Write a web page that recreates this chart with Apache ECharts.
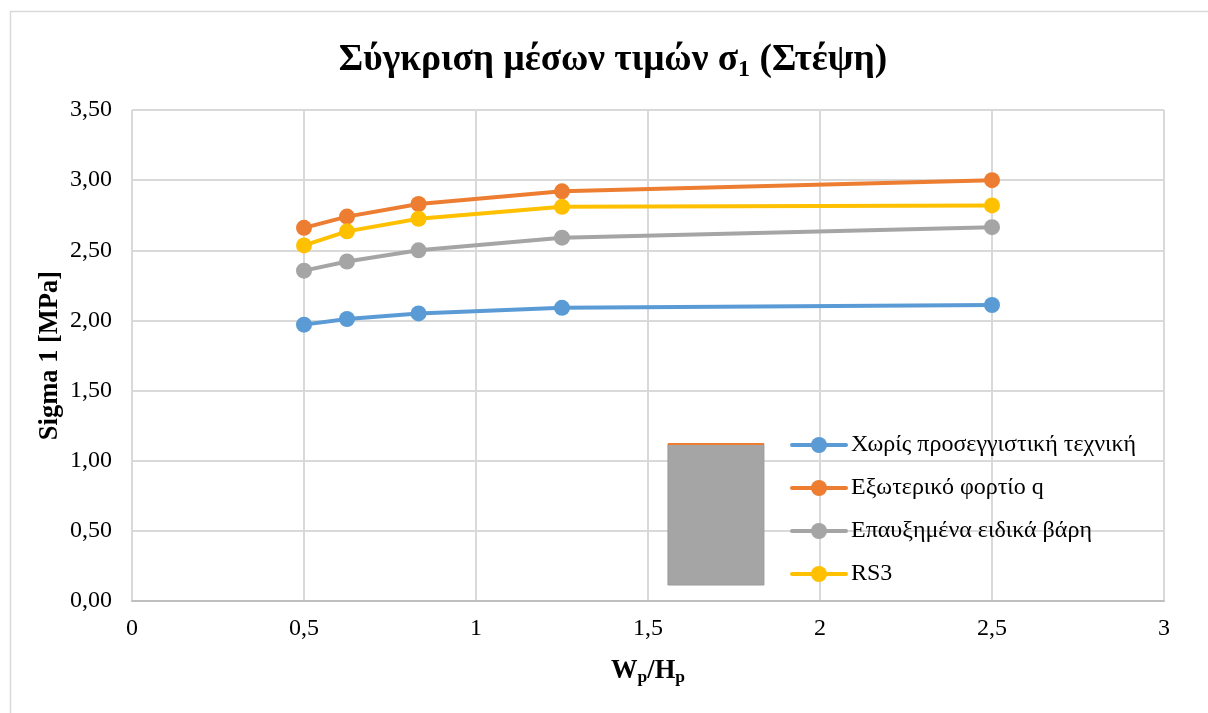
<!DOCTYPE html>
<html><head><meta charset="utf-8">
<script src="https://cdn.jsdelivr.net/npm/echarts@6/dist/echarts.min.js"></script>
<style>html,body{margin:0;padding:0;background:#fff}#c{width:1208px;height:713px}</style>
</head><body><div id="c"></div>
<script>
const xValues = [0.5, 0.625, 0.833, 1.25, 2.5];
const noTechnique = [1.97, 2.01, 2.05, 2.09, 2.11];
const externalLoad = [2.66, 2.74, 2.83, 2.92, 3.00];
const increasedWeights = [2.355, 2.42, 2.50, 2.59, 2.665];
const rs3 = [2.535, 2.635, 2.725, 2.81, 2.82];
const seriesNames = ['Χωρίς προσεγγιστική τεχνική', 'Εξωτερικό φορτίο q', 'Επαυξημένα ειδικά βάρη', 'RS3'];
const seriesColors = ['#5B9BD5', '#ED7D31', '#A5A5A5', '#FFC000'];
const seriesValues = [noTechnique, externalLoad, increasedWeights, rs3];
const boxX = [1.558, 1.837];
const boxY = [0.114, 1.119];
const FONT = '"Liberation Serif","Times New Roman",serif';

const chart = echarts.init(document.getElementById('c'), null, {renderer: 'canvas'});
const series = seriesValues.map((vals, i) => ({
  name: seriesNames[i],
  type: 'line',
  data: vals.map((v, k) => [xValues[k], v]),
  symbol: 'circle',
  symbolSize: 16,
  showSymbol: true,
  z: 3 + i,
  lineStyle: {color: seriesColors[i], width: 4, cap: 'round'},
  itemStyle: {color: seriesColors[i], borderWidth: 0},
  emphasis: {disabled: true},
  animation: false
}));
series[0].markArea = {
  silent: true,
  z: 1,
  itemStyle: {color: '#A5A5A5', borderColor: '#9A9A9A', borderWidth: 1},
  data: [[{coord: [boxX[0], boxY[0]]}, {coord: [boxX[1], boxY[1]]}]]
};
series[1].markLine = {
  silent: true,
  symbol: 'none',
  z: 2,
  label: {show: false},
  lineStyle: {color: '#ED7D31', width: 2, type: 'solid'},
  data: [[{coord: [boxX[0], boxY[1]]}, {coord: [boxX[1], boxY[1]]}]]
};
chart.setOption({
  animation: false,
  backgroundColor: '#fff',
  graphic: [{
    type: 'rect', silent: true, z: -1,
    shape: {x: 10.5, y: 11.5, width: 1300, height: 900},
    style: {fill: '#fff', stroke: '#D9D9D9', lineWidth: 1.5}
  }],
  title: {
    text: '{t|Σύγκριση μέσων τιμών σ}{s|1}{t| (Στέψη)}',
    left: 608, top: 33, textAlign: 'center',
    textStyle: {
      rich: {
        t: {fontFamily: FONT, fontSize: 37.4, fontWeight: 'bold', color: '#000'},
        s: {fontFamily: FONT, fontSize: 24, fontWeight: 'bold', color: '#000', padding: [20, 0, 0, 0]}
      }
    }
  },
  grid: {left: 132, top: 110, width: 1032, height: 491, containLabel: false},
  xAxis: {
    type: 'value', min: 0, max: 3, interval: 0.5,
    name: '{t|W}{s|p}{t|/H}{s|p}',
    nameLocation: 'middle', nameGap: 56,
    nameTextStyle: {
      rich: {
        t: {fontFamily: FONT, fontSize: 26.5, fontWeight: 'bold', color: '#000'},
        s: {fontFamily: FONT, fontSize: 17.5, fontWeight: 'bold', color: '#000', padding: [11, 0, 0, 0]}
      }
    },
    axisLine: {show: true, lineStyle: {color: '#BFBFBF', width: 2}},
    axisTick: {show: false},
    axisLabel: {fontFamily: FONT, fontSize: 24, color: '#000', margin: 16,
      formatter: v => String(v).replace('.', ',')},
    splitLine: {show: true, lineStyle: {color: '#D9D9D9', width: 2}}
  },
  yAxis: {
    type: 'value', min: 0, max: 3.5, interval: 0.5,
    name: 'Sigma 1 [MPa]',
    nameLocation: 'middle', nameGap: 68, nameRotate: 90, nameMoveOverlap: false,
    nameTextStyle: {fontFamily: FONT, fontSize: 26.5, fontWeight: 'bold', color: '#000'},
    axisLine: {show: false},
    axisTick: {show: false},
    axisLabel: {fontFamily: FONT, fontSize: 24, color: '#000', margin: 20, padding: [4, 0, 0, 0],
      formatter: v => v.toFixed(2).replace('.', ',')},
    splitLine: {show: true, lineStyle: {color: '#D9D9D9', width: 2}}
  },
  legend: {
    show: true, orient: 'vertical', left: 785, top: 428,
    itemWidth: 54, itemHeight: 20, itemGap: 19,
    textStyle: {fontFamily: FONT, fontSize: 24, color: '#000'},
    lineStyle: {width: 4},
    selectedMode: false,
    data: seriesNames
  },
  series
});
</script></body></html>
